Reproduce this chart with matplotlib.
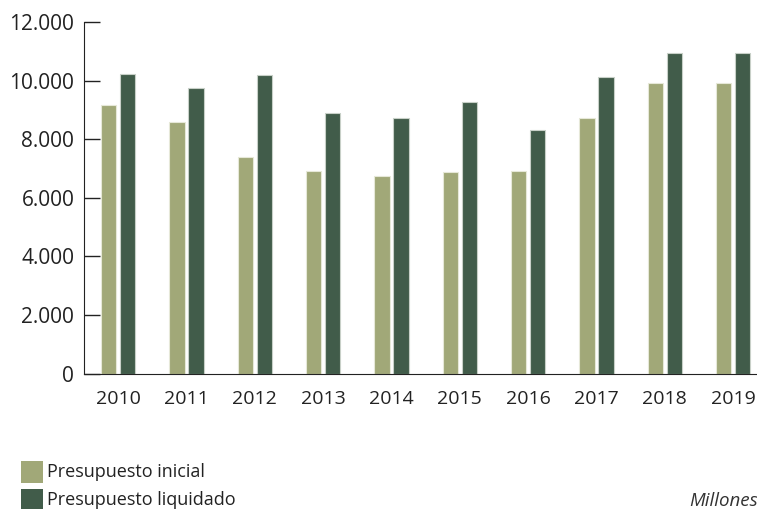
import matplotlib
matplotlib.use("Agg")
import matplotlib.pyplot as plt
import numpy as np
from matplotlib.patches import Rectangle

years = ["2010", "2011", "2012", "2013", "2014", "2015", "2016", "2017", "2018", "2019"]
inicial = [9170, 8570, 7400, 6920, 6750, 6870, 6910, 8730, 9920, 9920]
liquidado = [10240, 9750, 10180, 8900, 8730, 9270, 8310, 10130, 10930, 10930]
yticks = [0, 2000, 4000, 6000, 8000, 10000, 12000]
ytick_labels = ["0", "2.000", "4.000", "6.000", "8.000", "10.000", "12.000"]
series_names = ["Presupuesto inicial", "Presupuesto liquidado"]

c_ini = "#A1A878"
c_liq = "#415C4A"

plt.rcParams['font.family'] = ['Open Sans', 'DejaVu Sans']

W, H = 757, 509
fig = plt.figure(figsize=(W/100, H/100), dpi=100)
ax = fig.add_axes([84/W, 1-373.5/H, 1-84/W, (373.5-22)/H])

x = np.arange(len(years))
w = 0.225
off = 0.14
ax.bar(x - off, inicial, w, color=c_ini, edgecolor="#e6e8d8", linewidth=0.8)
ax.bar(x + off, liquidado, w, color=c_liq, edgecolor="#c8d0c8", linewidth=0.8)

ax.set_xlim(-0.5, 9.35)
ax.set_ylim(0, 12000)
ax.set_yticks(yticks)
ax.set_yticklabels(ytick_labels, fontsize=15, color="#222222")
ax.set_xticks(x)
ax.set_xticklabels(years, fontsize=14, color="#222222")
ax.tick_params(axis='y', direction='in', length=11.5, width=1.0, color="#222222", pad=7)
ax.tick_params(axis='x', length=0, pad=12)
for s in ["top", "right"]:
    ax.spines[s].set_visible(False)
ax.spines["left"].set_color("#222222")
ax.spines["bottom"].set_color("#222222")

# legend drawn manually (pixel layout of the reference)
for i, (name, col) in enumerate(zip(series_names, [c_ini, c_liq])):
    y0 = 461 + i * 28
    fig.patches.append(Rectangle((21/W, 1-(y0+22)/H), 22/W, 22/H,
                                 transform=fig.transFigure, facecolor=col,
                                 edgecolor="none"))
    fig.text(47/W, 1-(y0+11)/H, name, fontsize=13, color="#222222",
             va="center", ha="left")

fig.text(689/W, 1-501/H, "Millones", fontsize=13.5, style="italic",
         color="#333333", va="center", ha="left")

fig.savefig("out.png", dpi=100)
